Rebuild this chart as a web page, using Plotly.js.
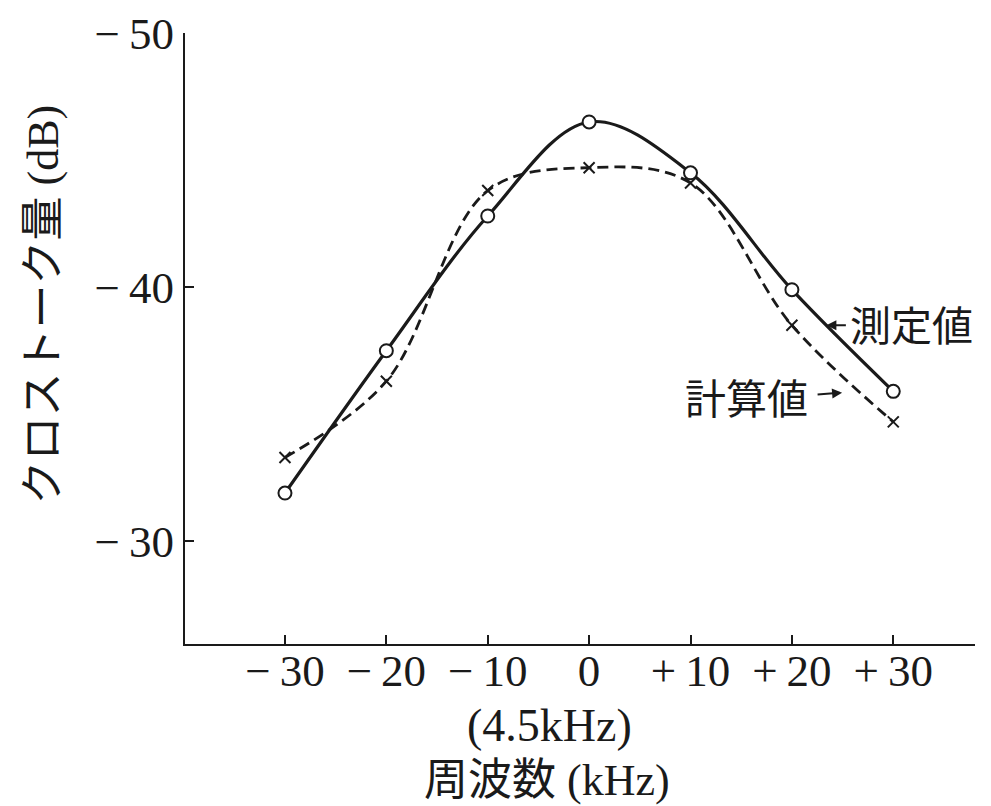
<!DOCTYPE html>
<html>
<head>
<meta charset="utf-8">
<script src="https://cdn.plot.ly/plotly-3.0.1.min.js"></script>
<style>
  html, body { margin: 0; padding: 0; background: #ffffff; }
  #chart { width: 991px; height: 806px; }
</style>
</head>
<body>
<div id="chart"></div>
<script>
// Crosstalk vs. frequency offset around 4.5 kHz
const freq = [-30, -20, -10, 0, 10, 20, 30];
const measured = [-31.9, -37.5, -42.8, -46.5, -44.5, -39.9, -35.9];   // 測定値
const calculated = [-33.3, -36.3, -43.8, -44.7, -44.1, -38.5, -34.7]; // 計算値

const xTickVals = [-30, -20, -10, 0, 10, 20, 30];
const xTickText = ['−\u200930', '−\u200920', '−\u200910', '0', '+\u200910', '+\u200920', '+\u200930'];
const yTickVals = [-50, -40, -30];
const yTickText = ['−\u200950', '−\u200940', '−\u200930'];

const LATIN = 'Liberation Serif, Noto Sans CJK JP, serif';
const INK = '#1a1a1a';

const traces = [
  {
    x: freq, y: calculated, mode: 'lines+markers', name: '計算値',
    line: { color: INK, width: 2.8, dash: '11px,6px', shape: 'spline', smoothing: 1 },
    marker: { symbol: 'x-thin-open', size: 11, color: INK, line: { color: INK, width: 2 } },
    hoverinfo: 'skip'
  },
  {
    x: freq, y: measured, mode: 'lines+markers', name: '測定値',
    line: { color: INK, width: 3.2, shape: 'spline', smoothing: 1 },
    marker: { symbol: 'circle', size: 13, color: '#ffffff', line: { color: INK, width: 2 } },
    hoverinfo: 'skip'
  }
];

const layout = {
  width: 991, height: 806,
  margin: { l: 185, r: 16, t: 33, b: 162 },
  paper_bgcolor: '#ffffff', plot_bgcolor: '#ffffff',
  showlegend: false,
  font: { family: LATIN, color: INK, size: 44 },
  xaxis: {
    range: [-39.86, 38.06],
    tickmode: 'array', tickvals: xTickVals, ticktext: xTickText,
    ticks: 'inside', ticklen: 9, tickwidth: 2, tickcolor: INK,
    ticklabelstandoff: -14,
    showline: true, linecolor: INK, linewidth: 2,
    showgrid: false, zeroline: false,
    tickfont: { family: LATIN, size: 45, color: INK }
  },
  yaxis: {
    range: [-25.96, -50],
    tickmode: 'array', tickvals: yTickVals, ticktext: yTickText,
    ticks: 'inside', ticklen: 9, tickwidth: 2, tickcolor: INK,
    showline: true, linecolor: INK, linewidth: 2,
    showgrid: false, zeroline: false,
    tickfont: { family: LATIN, size: 45, color: INK }
  },
  annotations: [
    {
      text: 'クロストーク量 (dB)', textangle: -90,
      xref: 'paper', yref: 'paper', x: -0.179, y: 0.555,
      xanchor: 'center', yanchor: 'middle', showarrow: false,
      font: { family: LATIN, size: 44, color: INK }
    },
    {
      text: '(4.5kHz)',
      xref: 'paper', yref: 'paper', x: 0.462, y: -0.134,
      xanchor: 'center', yanchor: 'middle', showarrow: false,
      font: { family: LATIN, size: 46, color: INK }
    },
    {
      text: '周波数 (kHz)',
      xref: 'paper', yref: 'paper', x: 0.458, y: -0.224,
      xanchor: 'center', yanchor: 'middle', showarrow: false,
      font: { family: LATIN, size: 44, color: INK }
    },
    {
      text: '測定値',
      xref: 'paper', yref: 'paper', x: 0.919, y: 0.519,
      xanchor: 'center', yanchor: 'middle', showarrow: false,
      font: { family: LATIN, size: 41, color: INK }
    },
    {
      text: '計算値',
      xref: 'paper', yref: 'paper', x: 0.711, y: 0.399,
      xanchor: 'center', yanchor: 'middle', showarrow: false,
      font: { family: LATIN, size: 41, color: INK }
    },
    // leader arrows from the labels to their curves
    {
      text: '', xref: 'x', yref: 'y', x: 23.4, y: -38.5,
      showarrow: true, ax: 21, ay: 0,
      arrowhead: 2, arrowsize: 1, arrowwidth: 2, arrowcolor: INK
    },
    {
      text: '', xref: 'x', yref: 'y', x: 24.95, y: -35.85,
      showarrow: true, ax: -26, ay: 2,
      arrowhead: 2, arrowsize: 1, arrowwidth: 2, arrowcolor: INK
    }
  ]
};

Plotly.newPlot('chart', traces, layout, { staticPlot: true, displayModeBar: false });
</script>
</body>
</html>
